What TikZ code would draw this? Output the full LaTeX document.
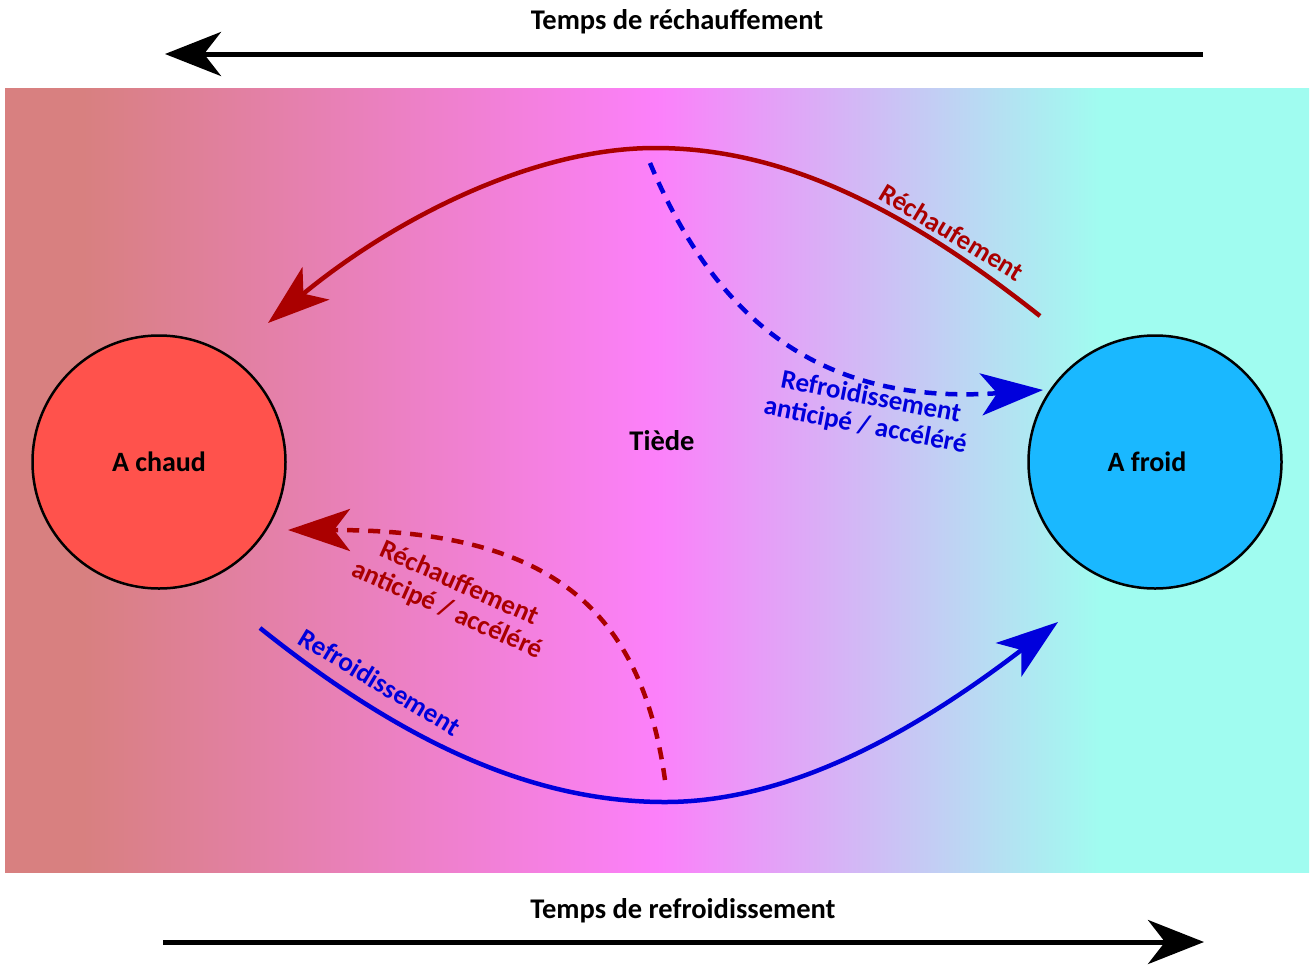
\documentclass[tikz,border=0pt]{standalone}
\usepackage{fontspec}
\setmainfont{Carlito}
\usetikzlibrary{arrows.meta}
\definecolor{cL}{RGB}{216,128,128}
\definecolor{cM}{RGB}{252,128,250}
\definecolor{cR}{RGB}{160,252,240}
\definecolor{dred}{RGB}{170,0,0}
\definecolor{dblue}{RGB}{0,0,220}
\definecolor{hot}{RGB}{255,82,76}
\definecolor{cold}{RGB}{26,184,255}
\pgfdeclarehorizontalshading{bgshade}{100bp}{color(0bp)=(cL); color(28bp)=(cL); color(50bp)=(cM); color(67bp)=(cR); color(100bp)=(cR)}
\begin{document}
\begin{tikzpicture}[x=1pt,y=-1pt,
  lbl/.style={font=\bfseries\fontsize{28.5}{30}\selectfont},
  state/.style={circle,draw=black,line width=2.5pt,minimum size=253pt,inner sep=0pt,font=\bfseries\fontsize{28}{30}\selectfont},
  timearrow/.style={line width=5pt,-{Stealth[length=56pt,width=44pt,inset=17pt]}},
  flow/.style={line width=4.5pt,-{Stealth[length=62pt,width=42pt,inset=16pt]}},
  dflow/.style={flow,dash pattern=on 12pt off 9pt},
  rlab/.style={font=\bfseries\fontsize{27}{29}\selectfont,align=center,inner sep=0pt}]
\useasboundingbox (0,0) rectangle (1311,964);
\shade[shading=bgshade] (5,88) rectangle (1309,872);
% time arrows
\coordinate (tS) at (1203,54);
\coordinate (tE) at (165,54);
\coordinate (bS) at (163,942);
\coordinate (bE) at (1204,942);
\draw[timearrow] (tS) -- (tE);
\draw[timearrow] (bS) -- (bE);
\node[lbl] (tt) at (677,22) {Temps de réchauffement};
\node[lbl] (bt) at (683,911) {Temps de refroidissement};
% states
\node[state,fill=hot] (hot) at (159,462) {A chaud};
\node[state,fill=cold] (cold) at (1155,462) {\hspace*{-16pt}A froid};
\node[lbl] (tiede) at (662,441) {Tiède};
% connectors
\coordinate (r1) at (1040,316);
\coordinate (rpk) at (655,148);
\coordinate (r2) at (268,323);
\draw[flow,dred] (r1) .. controls (900,205) and (780,148) .. (rpk)
   .. controls (530,148) and (390,222) .. (r2);
\node[rlab,text=dred,rotate=-31] (lr) at (952,232) {Réchaufement};

\coordinate (b1) at (650,163);
\coordinate (b2) at (1043,390);
\draw[dflow,dblue] (b1) .. controls (720,330) and (830,405) .. (b2);
\node[rlab,text=dblue,rotate=-11] (lb) at (868,412) {Refroidissement\\anticipé / accéléré};

\coordinate (c1) at (260,628);
\coordinate (ctr) at (665,802);
\coordinate (c2) at (1058,622);
\draw[flow,dblue] (c1) .. controls (400,740) and (530,802) .. (ctr)
   .. controls (800,802) and (930,720) .. (c2);
\node[rlab,text=dblue,rotate=-31] (lc) at (380,682) {Refroidissement};

\coordinate (d1) at (665,780);
\coordinate (d2) at (288,530);
\draw[dflow,dred] (d1) .. controls (640,600) and (540,530) .. (d2);
\node[rlab,text=dred,rotate=-24] (ld) at (453,597) {Réchauffement\\anticipé / accéléré};
\end{tikzpicture}
\end{document}
